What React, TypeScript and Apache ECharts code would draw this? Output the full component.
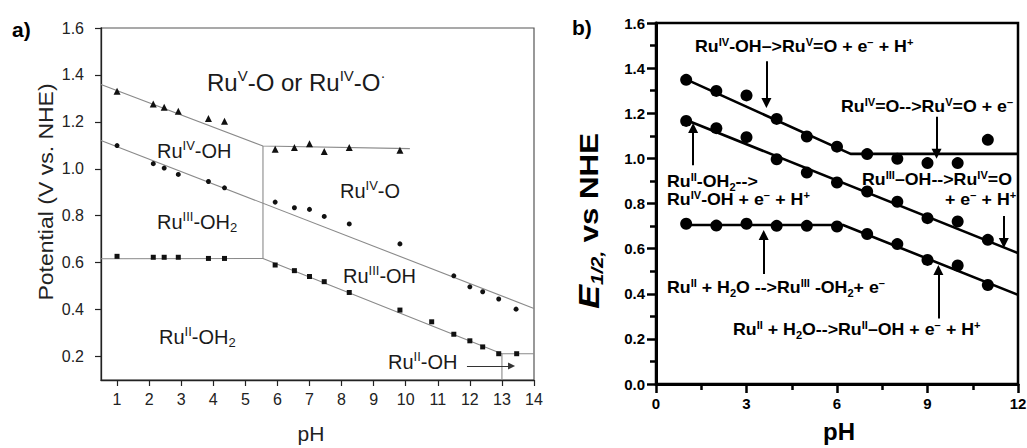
import React, { useEffect, useRef } from "react";
import * as echarts from "echarts";

const FONT = "'Liberation Sans', Arial, Helvetica, sans-serif";

// ---------------- Panel a data ----------------
const aXTicks = [1, 2, 3, 4, 5, 6, 7, 8, 9, 10, 11, 12, 13, 14];
const aYTicks = [0.2, 0.4, 0.6, 0.8, 1.0, 1.2, 1.4, 1.6];
const aTriX = [1.0, 2.13, 2.47, 2.91, 3.85, 4.35, 5.93, 6.53, 7.0, 7.46, 8.24, 9.82];
const aTriY = [1.331, 1.276, 1.262, 1.245, 1.214, 1.203, 1.083, 1.091, 1.107, 1.074, 1.091, 1.079];
const aCirX = [1.0, 2.13, 2.47, 2.91, 3.85, 4.35, 5.93, 6.53, 7.0, 7.46, 8.24, 9.82, 11.5, 12.0, 12.4, 12.9, 13.44];
const aCirY = [1.099, 1.022, 1.003, 0.976, 0.946, 0.919, 0.858, 0.834, 0.827, 0.797, 0.765, 0.68, 0.544, 0.497, 0.476, 0.445, 0.402];
const aSqX = [1.0, 2.13, 2.47, 2.91, 3.85, 4.35, 5.93, 6.53, 7.0, 7.46, 8.24, 9.82, 10.81, 11.5, 12.0, 12.4, 12.9, 13.46];
const aSqY = [0.627, 0.623, 0.623, 0.623, 0.618, 0.618, 0.59, 0.566, 0.541, 0.519, 0.473, 0.398, 0.348, 0.295, 0.267, 0.241, 0.212, 0.212];
const aLineUpper = [[0.5, 1.359], [5.55, 1.097], [10.13, 1.086]];
const aLineMiddle = [[0.5, 1.121], [14, 0.405]];
const aLineLower = [[0.5, 0.617], [5.55, 0.618], [13, 0.212], [14, 0.212]];
const aLineV1 = [[5.55, 1.097], [5.55, 0.618]];
const aLineV2 = [[13, 0.212], [13, 0.1]];
const aArrow = [[11.91, 0.16], [13.3, 0.16]];

// ---------------- Panel b data ----------------
const bPH = [1, 2, 3, 4, 5, 6, 7, 8, 9, 10, 11];
const bTop = [1.348, 1.299, 1.279, 1.175, 1.097, 1.052, 1.019, 0.998, 0.979, 0.979, 1.082];
const bMid = [1.166, 1.134, 1.094, 0.996, 0.937, 0.893, 0.853, 0.808, 0.735, 0.72, 0.639];
const bLow = [0.71, 0.702, 0.71, 0.701, 0.701, 0.698, 0.665, 0.62, 0.55, 0.525, 0.439];
const bFitTop = [[1, 1.35], [6.45, 1.02], [12, 1.02]];
const bFitMid = [[1, 1.17], [12, 0.58]];
const bFitLow = [[1, 0.705], [6.2, 0.705], [12, 0.395]];
const bArrows = [
  [[3.66, 1.43], [3.66, 1.245]],
  [[9.3, 1.185], [9.3, 1.02]],
  [[1.23, 0.97], [1.23, 1.135]],
  [[11.53, 0.745], [11.53, 0.625]],
  [[3.57, 0.488], [3.57, 0.66]],
  [[9.36, 0.29], [9.36, 0.505]],
];

// ---------------- Annotation texts ----------------
const aLabels = [
  { t: "Ru^{V}-O or Ru^{IV}-O^{·}", x: 207, y: 82, size: 24 },
  { t: "Ru^{IV}-OH", x: 157, y: 151, size: 20 },
  { t: "Ru^{III}-OH_{2}", x: 157, y: 222, size: 20 },
  { t: "Ru^{IV}-O", x: 340, y: 191, size: 20 },
  { t: "Ru^{III}-OH", x: 343, y: 276, size: 20 },
  { t: "Ru^{II}-OH_{2}", x: 159, y: 337, size: 20 },
  { t: "Ru^{II}-OH", x: 388, y: 362, size: 20 },
];
const bLabels = [
  { t: "Ru^{IV}-OH–>Ru^{V}=O + e^{−} + H^{+}", x: 695, y: 47 },
  { t: "Ru^{IV}=O-->Ru^{V}=O + e^{−}", x: 841, y: 107 },
  { t: "Ru^{II}-OH_{2}-->", x: 667, y: 182 },
  { t: "Ru^{IV}-OH + e^{−} + H^{+}", x: 667, y: 200 },
  { t: "Ru^{III}–OH-->Ru^{IV}=O", x: 862, y: 180 },
  { t: "+ e^{−} + H^{+}", x: 945, y: 200 },
  { t: "Ru^{II} + H_{2}O -->Ru^{III} -OH_{2}+ e^{−}", x: 667, y: 288 },
  { t: "Ru^{II} + H_{2}O-->Ru^{II}–OH + e^{−} + H^{+}", x: 733, y: 330 },
];

function toRich(s: string): string {
  let out = "";
  let buf = "";
  let i = 0;
  const flush = () => {
    if (buf) {
      out += `{n|${buf}}`;
      buf = "";
    }
  };
  while (i < s.length) {
    const c = s[i];
    if ((c === "^" || c === "_") && s[i + 1] === "{") {
      const end = s.indexOf("}", i + 2);
      flush();
      out += `{${c === "^" ? "u" : "d"}|${s.slice(i + 2, end)}}`;
      i = end + 1;
    } else {
      buf += c;
      i++;
    }
  }
  flush();
  return out;
}

function richStyles(size: number, bold: boolean, color: string) {
  const small = Math.round(size * 0.64);
  const fw = bold ? "bold" : "normal";
  return {
    n: { fontSize: size, lineHeight: size + 4, verticalAlign: "middle", fontFamily: FONT, fontWeight: fw, fill: color, color },
    u: { fontSize: small, lineHeight: small, verticalAlign: "top", fontFamily: FONT, fontWeight: fw, fill: color, color },
    d: { fontSize: small, lineHeight: small, verticalAlign: "bottom", fontFamily: FONT, fontWeight: fw, fill: color, color },
  };
}

function zip(xs: number[], ys: number[]) {
  return xs.map((x, i) => [x, ys[i]]);
}

export default function App() {
  const ref = useRef<HTMLDivElement>(null);
  useEffect(() => {
    if (!ref.current) return;
    const chart = echarts.init(ref.current, undefined, { renderer: "svg" });
    const aCol = "#1a1a1a";
    const aLine = { color: "#8a8a8a", width: 1.1 };
    const bLine = { color: "#000", width: 2.6 };

    const graphics: any[] = [];
    aLabels.forEach((l) =>
      graphics.push({
        type: "text",
        x: l.x,
        y: l.y,
        silent: true,
        style: {
          text: toRich(l.t),
          rich: richStyles(l.size, false, aCol),
          fontSize: l.size,
          fontFamily: FONT,
          fill: aCol,
          align: "left",
          verticalAlign: "middle",
        },
      })
    );
    bLabels.forEach((l) =>
      graphics.push({
        type: "text",
        x: l.x,
        y: l.y,
        scaleX: 1.11,
        silent: true,
        style: {
          text: toRich(l.t),
          rich: richStyles(16, true, "#000"),
          fontSize: 16,
          fontWeight: "bold",
          fontFamily: FONT,
          fill: "#000",
          align: "left",
          verticalAlign: "middle",
        },
      })
    );
    graphics.push(
      { type: "text", x: 12, y: 29, silent: true, style: { text: "a)", fontSize: 21, fontWeight: "bold", fontFamily: FONT, fill: "#000", align: "left", verticalAlign: "middle" } },
      { type: "text", x: 572, y: 27, silent: true, style: { text: "b)", fontSize: 21, fontWeight: "bold", fontFamily: FONT, fill: "#000", align: "left", verticalAlign: "middle" } },
      {
        type: "text", x: 46, y: 192, rotation: Math.PI / 2, scaleX: 1.15, silent: true,
        style: { text: "Potential (V vs. NHE)", fontSize: 20, fontFamily: FONT, fill: "#222", align: "center", verticalAlign: "middle" },
      },
      { type: "text", x: 311, y: 433, silent: true, style: { text: "pH", fontSize: 21, fontFamily: FONT, fill: "#222", align: "center", verticalAlign: "middle" } },
      {
        type: "text", x: 589, y: 221, rotation: Math.PI / 2, scaleX: 1.2, silent: true,
        style: {
          text: "{e|E}{s|1/2,}{t| vs NHE}",
          fontSize: 26,
          fontFamily: FONT,
          align: "center",
          verticalAlign: "middle",
          rich: {
            e: { fontSize: 30, fontStyle: "italic", fontWeight: "bold", fontFamily: FONT, lineHeight: 34, verticalAlign: "middle", fill: "#000", color: "#000" },
            s: { fontSize: 17, fontStyle: "italic", fontWeight: "bold", fontFamily: FONT, lineHeight: 17, verticalAlign: "bottom", fill: "#000", color: "#000" },
            t: { fontSize: 26, fontWeight: "bold", fontFamily: FONT, lineHeight: 34, verticalAlign: "middle", fill: "#000", color: "#000" },
          },
        },
      },
      { type: "text", x: 839, y: 431, silent: true, style: { text: "pH", fontSize: 24, fontWeight: "bold", fontFamily: FONT, fill: "#000", align: "center", verticalAlign: "middle" } }
    );

    const option: any = {
      animation: false,
      textStyle: { fontFamily: FONT },
      grid: [
        { left: 101, top: 28, width: 433, height: 352, show: true, borderColor: "#555", borderWidth: 1.2, backgroundColor: "transparent", outerBoundsMode: "none", containLabel: false },
        { left: 656, top: 23, width: 362, height: 361, show: true, borderColor: "#000", borderWidth: 2.5, backgroundColor: "transparent", outerBoundsMode: "none", containLabel: false },
      ],
      xAxis: [
        {
          gridIndex: 0, type: "value", min: 0.5, max: 14,
          axisLine: { onZero: false, lineStyle: { color: "#222", width: 1.3 } },
          axisTick: { customValues: aXTicks, length: 6, lineStyle: { color: "#222", width: 1.2 } },
          axisLabel: { customValues: aXTicks, fontSize: 16, color: "#222", margin: 11, fontFamily: FONT },
          splitLine: { show: false },
        },
        {
          gridIndex: 1, type: "value", min: 0, max: 12, interval: 3,
          axisLine: { onZero: false, lineStyle: { color: "#000", width: 3 } },
          axisTick: { length: 9, lineStyle: { color: "#000", width: 2.5 } },
          minorTick: { show: true, splitNumber: 2, length: 6, lineStyle: { color: "#000", width: 2.5 } },
          axisLabel: { fontSize: 15, fontWeight: "bold", color: "#000", margin: 12, fontFamily: FONT },
          splitLine: { show: false },
          minorSplitLine: { show: false },
        },
      ],
      yAxis: [
        {
          gridIndex: 0, type: "value", min: 0.1, max: 1.6,
          axisLine: { onZero: false, lineStyle: { color: "#222", width: 1.3 } },
          axisTick: { customValues: aYTicks, length: 6, lineStyle: { color: "#222", width: 1.2 } },
          axisLabel: { customValues: aYTicks, fontSize: 16, color: "#222", margin: 17, fontFamily: FONT, formatter: (v: number) => v.toFixed(1) },
          splitLine: { show: false },
        },
        {
          gridIndex: 1, type: "value", min: 0, max: 1.6, interval: 0.2,
          axisLine: { onZero: false, lineStyle: { color: "#000", width: 3 } },
          axisTick: { length: 9, lineStyle: { color: "#000", width: 2.5 } },
          minorTick: { show: true, splitNumber: 2, length: 6, lineStyle: { color: "#000", width: 2.5 } },
          axisLabel: { fontSize: 15, fontWeight: "bold", color: "#000", margin: 11, fontFamily: FONT, formatter: (v: number) => v.toFixed(1) },
          splitLine: { show: false },
          minorSplitLine: { show: false },
        },
      ],
      series: [
        ...[aLineUpper, aLineMiddle, aLineLower, aLineV1, aLineV2].map((d) => ({
          type: "line", xAxisIndex: 0, yAxisIndex: 0, data: d, symbol: "none", lineStyle: aLine, silent: true, z: 2,
        })),
        {
          type: "scatter", xAxisIndex: 0, yAxisIndex: 0, data: zip(aTriX, aTriY), symbol: "triangle", symbolSize: 7,
          itemStyle: { color: "#111", opacity: 1 }, silent: true, z: 3,
          markLine: {
            silent: true, symbol: ["none", "triangle"], symbolSize: 7, label: { show: false }, emphasis: { disabled: true },
            lineStyle: { color: "#333", width: 1, type: "solid" },
            data: [[{ coord: aArrow[0] }, { coord: aArrow[1] }]],
          },
        },
        { type: "scatter", xAxisIndex: 0, yAxisIndex: 0, data: zip(aCirX, aCirY), symbol: "circle", symbolSize: 5, itemStyle: { color: "#111", opacity: 1 }, silent: true, z: 3 },
        { type: "scatter", xAxisIndex: 0, yAxisIndex: 0, data: zip(aSqX, aSqY), symbol: "rect", symbolSize: 5, itemStyle: { color: "#111", opacity: 1 }, silent: true, z: 3 },
        ...[bFitTop, bFitMid, bFitLow].map((d) => ({
          type: "line", xAxisIndex: 1, yAxisIndex: 1, data: d, symbol: "none", lineStyle: bLine, silent: true, z: 2,
        })),
        {
          type: "scatter", xAxisIndex: 1, yAxisIndex: 1, data: zip(bPH, bTop), symbol: "circle", symbolSize: 12, itemStyle: { color: "#000", opacity: 1 }, silent: true, z: 3,
          markLine: {
            silent: true, symbol: ["none", "triangle"], symbolSize: 10, label: { show: false }, emphasis: { disabled: true },
            lineStyle: { color: "#000", width: 2, type: "solid" },
            data: bArrows.map((a) => [{ coord: a[0] }, { coord: a[1] }]),
          },
        },
        { type: "scatter", xAxisIndex: 1, yAxisIndex: 1, data: zip(bPH, bMid), symbol: "circle", symbolSize: 12, itemStyle: { color: "#000", opacity: 1 }, silent: true, z: 3 },
        { type: "scatter", xAxisIndex: 1, yAxisIndex: 1, data: zip(bPH, bLow), symbol: "circle", symbolSize: 12, itemStyle: { color: "#000", opacity: 1 }, silent: true, z: 3 },
      ],
      graphic: graphics,
    };
    chart.setOption(option);
    return () => chart.dispose();
  }, []);
  return <div ref={ref} style={{ position: "absolute", left: 0, top: 0, width: 1027, height: 448, background: "#fff" }} />;
}
